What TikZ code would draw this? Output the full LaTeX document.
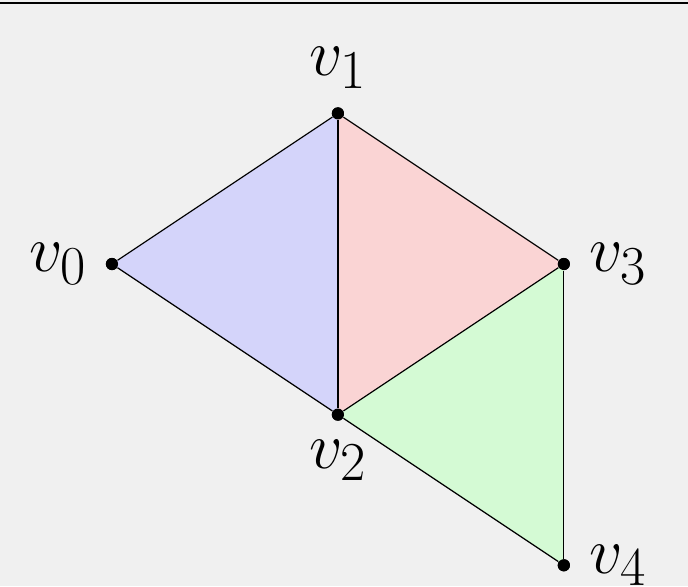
\documentclass[tikz,border=0pt]{standalone}
\usetikzlibrary{positioning}

\definecolor{bgcol}{RGB}{240,240,240}
\definecolor{facea}{RGB}{212,212,250}
\definecolor{faceb}{RGB}{250,212,212}
\definecolor{facec}{RGB}{212,250,212}

\tikzset{
  vtx/.style={circle, fill=black, inner sep=0pt, minimum size=4.6pt},
  vlab/.style={font=\Huge},
  edge/.style={black, line width=0.45pt}
}

\begin{document}
\begin{tikzpicture}[label distance=3.5pt]
  % canvas
  \fill[bgcol] (-1.487,-4.276) rectangle (7.649,3.506);
  \useasboundingbox (-1.487,-4.276) rectangle (7.649,3.506);
  \draw[line width=0.9pt] (-1.487,3.47) -- (7.649,3.47);

  % vertices
  \node[vtx, label={[vlab]left:$v_0$}]  (v0) at (0,0) {};
  \node[vtx, label={[vlab]above:$v_1$}] (v1) at (3,2) {};
  \node[vtx, label={[vlab]below:$v_2$}] (v2) at (3,-2) {};
  \node[vtx, label={[vlab]right:$v_3$}] (v3) at (6,0) {};
  \node[vtx, label={[vlab]right:$v_4$}] (v4) at (6,-4) {};

  % faces
  \fill[facea] (v0.center) -- (v1.center) -- (v2.center) -- cycle;
  \fill[faceb] (v1.center) -- (v3.center) -- (v2.center) -- cycle;
  \fill[facec] (v2.center) -- (v3.center) -- (v4.center) -- cycle;

  % edges
  \draw[edge] (v0) -- (v1);
  \draw[edge] (v0) -- (v2);
  \draw[edge] (v1) -- (v2);
  \draw[edge] (v1) -- (v3);
  \draw[edge] (v2) -- (v3);
  \draw[edge] (v2) -- (v4);
  \draw[edge] (v3) -- (v4);

  % dots on top
  \foreach \v in {v0,v1,v2,v3,v4}
    \fill (\v) circle (2.3pt);
\end{tikzpicture}
\end{document}
